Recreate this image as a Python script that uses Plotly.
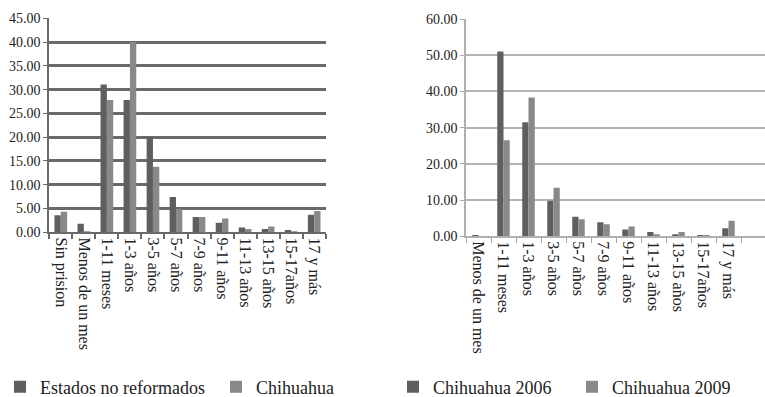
import plotly.graph_objects as go
from plotly.subplots import make_subplots

# Left panel: reformed vs non-reformed states
cats_left = ["Sin prision", "Menos de un mes", "1-11 meses", "1-3 años", "3-5 años",
             "5-7 años", "7-9 años", "9-11 años", "11-13 años", "13-15 años",
             "15-17años", "17 y más"]
no_reformados = [3.6, 1.8, 31.1, 27.8, 20.0, 7.4, 3.2, 2.0, 1.0, 0.7, 0.5, 3.7]
chihuahua = [4.3, 0.1, 27.8, 40.0, 13.8, 4.9, 3.2, 2.9, 0.7, 1.2, 0.1, 4.5]

# Right panel: Chihuahua 2006 vs 2009
cats_right = ["Menos de un mes", "1-11 meses", "1-3 años", "3-5 años", "5-7 años",
              "7-9 años", "9-11 años", "11-13 años", "13-15 años", "15-17años",
              "17 y más"]
chih_2006 = [0.2, 51.0, 31.5, 9.8, 5.4, 3.9, 1.9, 1.2, 0.6, 0.3, 2.2]
chih_2009 = [0.0, 26.5, 38.3, 13.4, 4.7, 3.3, 2.7, 0.6, 1.2, 0.1, 4.3]

DARK = "#5f5f5f"
LIGHT = "#898989"
FONT = "Liberation Serif, Times New Roman, serif"
TXT = "#222222"

fig = make_subplots(rows=1, cols=2)

bw_l = 0.275
fig.add_trace(go.Bar(x=cats_left, y=no_reformados, name="Estados no reformados",
                     marker=dict(color=DARK, line=dict(width=0)),
                     width=bw_l, offset=-bw_l, legend="legend"), row=1, col=1)
fig.add_trace(go.Bar(x=cats_left, y=chihuahua, name="Chihuahua",
                     marker=dict(color=LIGHT, line=dict(width=0)),
                     width=bw_l, offset=0, legend="legend"), row=1, col=1)

bw_r = 0.25
fig.add_trace(go.Bar(x=cats_right, y=chih_2006, name="Chihuahua 2006",
                     marker=dict(color=DARK, line=dict(width=0)),
                     width=bw_r, offset=-bw_r, legend="legend2"), row=1, col=2)
fig.add_trace(go.Bar(x=cats_right, y=chih_2009, name="Chihuahua 2009",
                     marker=dict(color=LIGHT, line=dict(width=0)),
                     width=bw_r, offset=0, legend="legend2"), row=1, col=2)

W, H = 765, 397

def px_x(a, b):
    return [a / W, min(b / W, 1.0)]

def px_y(top, bottom):
    return [(H - bottom) / H, (H - top) / H]

xcommon = dict(type="category", tickangle=90, ticks="outside", ticklen=5,
               tickson="boundaries", showgrid=False, automargin=False,
               tickfont=dict(family=FONT, size=16, color=TXT))
ycommon = dict(ticks="outside", ticklen=4, tickformat=".2f", zeroline=False,
               automargin=False,
               tickfont=dict(family=FONT, size=14, color=TXT))

fig.update_xaxes(domain=px_x(49.3, 325.7), range=[-0.5, 11.5],
                 showline=True, linecolor="#6a6a6a", linewidth=2, tickcolor="#6a6a6a",
                 tickwidth=1.5, **xcommon, row=1, col=1)
fig.update_yaxes(domain=px_y(18.3, 232.3), range=[0, 45], dtick=5,
                 showline=True, linecolor="#6a6a6a", linewidth=2, tickcolor="#6a6a6a",
                 gridcolor="#6a6a6a", gridwidth=2.5, **ycommon, row=1, col=1)

# the 12th slot on the right is an empty category running off the edge
fig.update_xaxes(domain=px_x(466, 765), range=[-0.5, 11.46],
                 showline=True, linecolor="#b0b0b0", linewidth=1.5, tickcolor="#a8a8a8",
                 tickwidth=1.2, **xcommon, row=1, col=2)
fig.update_yaxes(domain=px_y(19, 236.3), range=[0, 60], dtick=10,
                 showline=True, linecolor="#b0b0b0", linewidth=1.5, tickcolor="#a8a8a8",
                 gridcolor="#b4b4b4", gridwidth=1.8, **ycommon, row=1, col=2)

legend_font = dict(family=FONT, size=18, color=TXT)
fig.update_layout(
    width=W, height=H, autosize=False,
    margin=dict(l=0, r=0, t=0, b=0, autoexpand=False),
    font=dict(family=FONT, color=TXT),
    paper_bgcolor="white", plot_bgcolor="white",
    barmode="overlay",
    showlegend=True,
    legend=dict(orientation="h", x=0, xanchor="left", y=10 / H, yanchor="middle",
                font=legend_font, entrywidth=171, entrywidthmode="pixels",
                bgcolor="rgba(0,0,0,0)", itemwidth=30),
    legend2=dict(orientation="h", x=393 / W, xanchor="left", y=10 / H, yanchor="middle",
                 font=legend_font, entrywidth=134, entrywidthmode="pixels",
                 bgcolor="rgba(0,0,0,0)", itemwidth=30),
)

fig.write_html("out.html")
